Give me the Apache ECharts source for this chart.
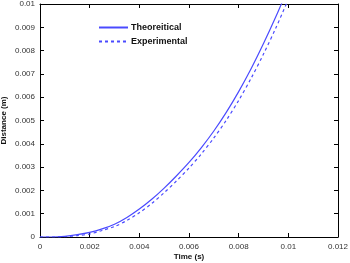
<!DOCTYPE html>
<html><head><meta charset="utf-8">
<script src="https://cdn.jsdelivr.net/npm/echarts@6/dist/echarts.min.js"></script>
<style>html,body{margin:0;padding:0;background:#fff}#c{width:350px;height:263px}</style>
</head><body><div id="c"></div>
<script>
var time = [0,0.0005,0.001,0.0015,0.002,0.0025,0.003,0.0035,0.004,0.0045,0.005,0.0055,0.006,0.0065,0.007,0.0075,0.008,0.0085,0.009,0.0095,0.01];
var theoretical = [0,0,0.00003,0.0001,0.0002,0.00035,0.00055,0.00084,0.0012,0.00162,0.0021,0.00263,0.0032,0.00384,0.00455,0.00535,0.00624,0.00722,0.0083,0.00946,0.0107];
var experimental = [0,0,0.00001,0.00006,0.00013,0.00028,0.00045,0.00071,0.00104,0.00144,0.0019,0.00241,0.00296,0.00357,0.00425,0.00501,0.00586,0.00681,0.00785,0.00898,0.0102];
var seriesNames = ['Theoreitical','Experimental'];
var xTitle = 'Time (s)', yTitle = 'Distance (m)';

function pairs(ys){return time.map(function(t,i){return [t,ys[i]];});}
var FF = 'Liberation Sans, Arial, sans-serif';
var lbl = {color:'#333',fontSize:8,fontFamily:FF};
var axLine = {show:true,onZero:false,lineStyle:{color:'#000',width:1}};
var tick = {show:true,inside:true,length:4,lineStyle:{color:'#000'}};
var chart = echarts.init(document.getElementById('c'));
chart.setOption({
  animation:false,
  grid:{left:40,right:12,top:4,bottom:26,containLabel:false,outerBoundsMode:'none'},
  legend:{left:93,top:18,orient:'vertical',itemWidth:29,itemHeight:8,itemGap:5,
    itemStyle:{opacity:0},
    textStyle:{fontSize:9,fontWeight:'bold',color:'#111',fontFamily:FF,padding:[0,0,0,-2]},
    data:seriesNames},
  xAxis:[{type:'value',min:0,max:0.012,interval:0.002,axisLine:axLine,axisTick:tick,
      axisLabel:Object.assign({margin:6},lbl),splitLine:{show:false},
      name:xTitle,nameLocation:'middle',nameGap:16,nameMoveOverlap:false,
      nameTextStyle:{fontSize:8,fontWeight:'bold',color:'#111',fontFamily:FF}},
    {type:'value',position:'top',min:0,max:0.012,interval:0.002,axisLine:axLine,axisTick:tick,
      axisLabel:{show:false},splitLine:{show:false}}],
  yAxis:[{type:'value',min:0,max:0.01,interval:0.001,axisLine:axLine,axisTick:tick,
      axisLabel:Object.assign({margin:5},lbl),splitLine:{show:false},
      name:yTitle,nameLocation:'middle',nameGap:32,nameMoveOverlap:false,
      nameTextStyle:{fontSize:8,fontWeight:'bold',color:'#111',fontFamily:FF}},
    {type:'value',position:'right',min:0,max:0.01,interval:0.001,axisLine:axLine,axisTick:tick,
      axisLabel:{show:false},splitLine:{show:false}}],
  series:[
    {name:seriesNames[0],type:'line',data:pairs(theoretical),showSymbol:false,symbol:'none',smooth:0.3,clip:true,
      lineStyle:{color:'#4a4aff',width:1.2},itemStyle:{color:'#4a4aff'}},
    {name:seriesNames[1],type:'line',data:pairs(experimental),showSymbol:false,symbol:'none',smooth:0.3,clip:true,
      lineStyle:{color:'#4a4aff',width:1.2,type:[3,3]},itemStyle:{color:'#4a4aff'}}
  ]
});
</script></body></html>
